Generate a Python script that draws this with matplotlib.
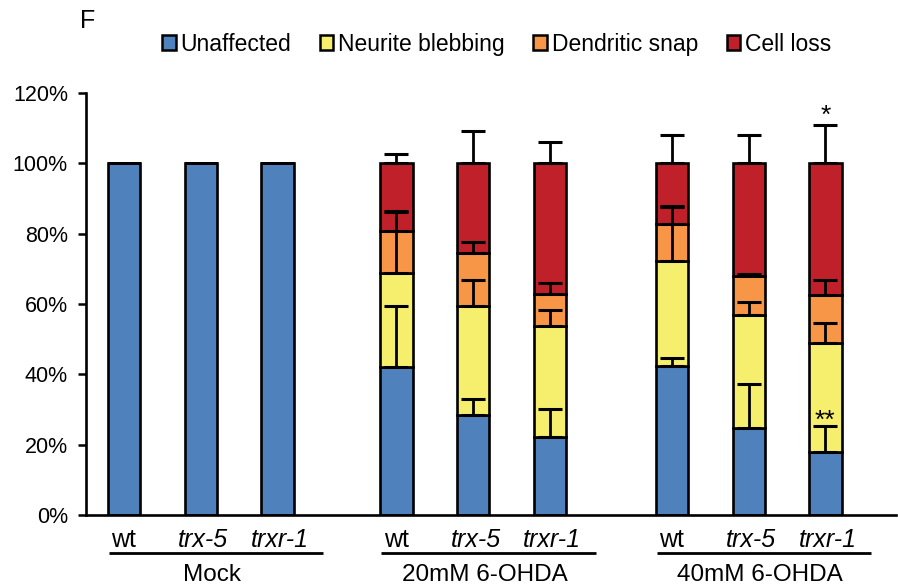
import numpy as np
import matplotlib.pyplot as plt
from matplotlib.patches import Patch
import matplotlib.transforms as mtransforms

plt.rcParams['font.family'] = ['Liberation Sans', 'DejaVu Sans']

# data (percent of animals)
strains = ['wt', 'trx-5', 'trxr-1']
groups = ['Mock', '20mM 6-OHDA', '40mM 6-OHDA']
categories = ['Unaffected', 'Neurite blebbing', 'Dendritic snap', 'Cell loss']

unaffected = [100, 100, 100, 42.1, 28.4, 22.1, 42.4, 24.8, 18.0]
blebbing   = [0, 0, 0, 26.6, 31.0, 31.6, 29.8, 32.0, 30.9]
snap       = [0, 0, 0, 12.0, 15.1, 9.0, 10.5, 11.1, 13.6]
cell_loss  = [0, 0, 0, 19.3, 25.5, 37.3, 17.3, 32.1, 37.5]

err_unaffected = [0, 0, 0, 17.4, 4.7, 7.9, 2.1, 12.4, 7.4]
err_blebbing   = [0, 0, 0, 17.7, 7.4, 4.7, 15.6, 3.8, 5.6]
err_snap       = [0, 0, 0, 5.5, 3.1, 3.4, 5.0, 0.6, 4.3]
err_cell_loss  = [0, 0, 0, 2.6, 9.1, 6.0, 8.1, 8.1, 10.8]

colors = ['#4F81BD', '#F6EF6E', '#F79646', '#C0202A']

# bar positions: three groups of three
group_start = [0, 3.55, 7.14]
x = np.array([g + i for g in group_start for i in range(3)])
width = 0.42

fig = plt.figure(figsize=(8.98, 5.87), dpi=100)
ax = fig.add_axes([0.0958, 0.1227, 0.902, 0.7189])

series = [unaffected, blebbing, snap, cell_loss]
errs = [err_unaffected, err_blebbing, err_snap, err_cell_loss]
bottom = np.zeros(len(x))
tops = []
for vals, c in zip(series, colors):
    vals = np.array(vals, dtype=float)
    ax.bar(x, vals, width, bottom=bottom, color=c, edgecolor='black',
           linewidth=1.9, zorder=2)
    bottom = bottom + vals
    tops.append(bottom.copy())

for top, e in zip(tops, errs):
    e = np.array(e, dtype=float)
    m = e > 0
    ax.errorbar(x[m], top[m], yerr=[np.zeros(m.sum()), e[m]], fmt='none',
                ecolor='black', elinewidth=2, capsize=8.5, capthick=2.2, zorder=3)

# significance marks
ax.text(x[8], tops[3][8] + err_cell_loss[8] - 0.8, '*', ha='center', va='bottom', fontsize=19)
ax.text(x[8], tops[0][8] + err_unaffected[8] - 2.0, '**', ha='center', va='bottom', fontsize=19)

ax.set_ylim(0, 120)
ax.set_yticks(np.arange(0, 121, 20))
ax.set_yticklabels([f'{v}%' for v in range(0, 121, 20)], fontsize=15.5)
ax.set_xlim(x[0] - 0.494, x[-1] + 0.92)
ax.set_xticks([])
ax.tick_params(axis='y', direction='out', length=6, width=1.8, pad=7)
for s in ['top', 'right']:
    ax.spines[s].set_visible(False)
for s in ['left', 'bottom']:
    ax.spines[s].set_linewidth(1.9)

# strain and group labels under the axis
trans = mtransforms.blended_transform_factory(ax.transData, ax.transAxes)
for gi, g in enumerate(group_start):
    for i, st in enumerate(strains):
        if st == 'wt':
            ax.text(g + i, -0.076, st, transform=trans, ha='center',
                    va='baseline', fontsize=18)
        else:
            ax.text(g + i + 0.03, -0.076, st, transform=trans, ha='center',
                    va='baseline', fontsize=18, style='italic')
    ax.plot([g - 0.2, g + 2.6], [-0.090, -0.090], color='black', lw=2,
            transform=trans, clip_on=False, solid_capstyle='butt')
    ax.text(g + 1.15, -0.157, groups[gi], transform=trans, ha='center',
            va='baseline', fontsize=17.5)

handles = [Patch(facecolor=c, edgecolor='black', linewidth=1.8) for c in colors]
fig.legend(handles, categories, loc='center', bbox_to_anchor=(0.553, 0.925), ncol=4,
           frameon=False, fontsize=16.5, handlelength=0.6, handleheight=0.6,
           handletextpad=0.2, columnspacing=1.25, borderpad=0)

fig.text(0.089, 0.964, 'F', fontsize=18, va='center')

fig.savefig('out.png', dpi=100)
